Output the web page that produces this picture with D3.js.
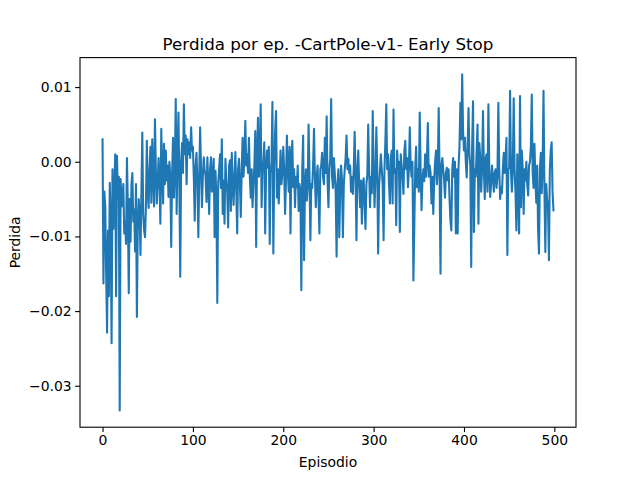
<!DOCTYPE html>
<html><head><meta charset="utf-8">
<script src="https://cdn.jsdelivr.net/npm/d3@7"></script>
<style>body{margin:0;background:#fff}svg{display:block}text{font-family:"DejaVu Sans",sans-serif}</style>
</head><body>
<svg id="c" width="640" height="480"></svg>
<script>
const title = "Perdida por ep. -CartPole-v1- Early Stop";
const xLabel = "Episodio";
const yLabel = "Perdida";
const xTicks = [0, 100, 200, 300, 400, 500];
const yTicks = [-0.03, -0.02, -0.01, 0.00, 0.01];
const lossValues = [
0.0030,-0.0163,-0.0040,-0.0060,-0.0150,-0.0229,-0.0092,-0.0180,-0.0028,-0.0080,
-0.0243,-0.0010,-0.0090,-0.0040,0.0010,-0.0180,0.0008,-0.0050,-0.0020,-0.0333,
-0.0023,-0.0060,-0.0052,-0.0030,-0.0096,-0.0080,-0.0110,0.0005,-0.0060,-0.0176,
-0.0050,-0.0107,-0.0030,-0.0015,-0.0080,-0.0064,-0.0120,-0.0030,-0.0208,-0.0088,
-0.0050,-0.0068,-0.0125,-0.0040,0.0039,-0.0070,-0.0092,-0.0101,-0.0060,0.0028,
-0.0040,-0.0062,-0.0010,0.0020,-0.0055,0.0030,-0.0020,-0.0060,0.0057,-0.0010,
-0.0056,-0.0030,0.0005,-0.0025,-0.0083,0.0044,-0.0015,-0.0056,0.0024,-0.0030,
0.0015,-0.0025,-0.0005,-0.0047,0.0000,-0.0020,-0.0114,-0.0016,0.0032,-0.0048,
-0.0010,0.0084,-0.0070,0.0010,0.0066,-0.0030,-0.0154,0.0000,0.0025,-0.0015,
0.0077,0.0010,0.0035,-0.0030,0.0030,0.0010,0.0026,0.0005,0.0046,0.0015,
0.0020,-0.0020,-0.0079,-0.0005,0.0012,-0.0030,-0.0101,-0.0020,0.0046,-0.0010,
-0.0061,-0.0020,0.0006,-0.0012,-0.0018,-0.0054,0.0006,-0.0030,-0.0070,-0.0010,
0.0006,-0.0040,-0.0020,0.0004,-0.0101,-0.0012,-0.0050,-0.0189,-0.0030,-0.0010,
0.0010,-0.0035,0.0030,-0.0070,-0.0025,-0.0083,0.0004,-0.0025,-0.0040,-0.0088,
-0.0006,0.0002,-0.0066,0.0012,-0.0030,-0.0058,-0.0020,0.0013,-0.0040,-0.0096,
-0.0010,0.0004,-0.0030,-0.0074,-0.0010,0.0032,-0.0020,0.0005,0.0055,-0.0005,
0.0010,-0.0015,0.0032,-0.0020,-0.0048,-0.0010,-0.0061,-0.0030,-0.0005,0.0041,
-0.0114,0.0010,0.0059,-0.0020,0.0002,0.0077,-0.0061,-0.0010,0.0000,0.0026,
-0.0096,-0.0010,0.0015,-0.0008,0.0020,-0.0110,-0.0015,0.0000,0.0080,-0.0123,
-0.0010,0.0041,0.0068,-0.0048,-0.0010,-0.0056,-0.0020,0.0015,-0.0030,-0.0015,
0.0020,-0.0010,-0.0070,-0.0025,0.0035,-0.0010,-0.0040,0.0020,-0.0096,0.0005,
0.0028,-0.0034,-0.0010,-0.0061,-0.0020,-0.0034,-0.0005,-0.0066,-0.0030,-0.0040,
-0.0172,-0.0010,0.0035,-0.0132,-0.0034,-0.0010,-0.0052,-0.0034,0.0050,-0.0015,
-0.0105,-0.0030,-0.0035,-0.0005,0.0044,-0.0020,-0.0061,-0.0020,-0.0005,-0.0050,
-0.0096,-0.0010,-0.0005,0.0012,-0.0020,-0.0030,0.0032,-0.0015,0.0061,-0.0025,
-0.0061,-0.0010,0.0004,0.0084,-0.0020,-0.0035,0.0005,-0.0015,-0.0040,-0.0127,
-0.0030,-0.0010,-0.0101,-0.0040,-0.0005,-0.0025,-0.0101,-0.0030,-0.0010,0.0005,
0.0035,-0.0010,0.0004,-0.0015,-0.0005,-0.0040,-0.0020,-0.0043,-0.0010,0.0040,
-0.0020,-0.0105,-0.0010,0.0015,-0.0030,-0.0061,-0.0025,-0.0083,-0.0030,-0.0022,
-0.0060,-0.0090,-0.0030,-0.0018,0.0050,-0.0010,-0.0061,-0.0020,-0.0042,0.0068,
-0.0010,-0.0061,-0.0020,0.0046,-0.0010,-0.0123,-0.0034,-0.0012,0.0010,-0.0010,
-0.0030,-0.0105,-0.0010,0.0028,0.0077,-0.0010,0.0010,-0.0030,-0.0056,0.0005,
0.0015,-0.0056,0.0070,-0.0015,-0.0010,-0.0085,0.0015,-0.0010,0.0000,-0.0094,
0.0010,-0.0005,-0.0020,-0.0043,0.0015,0.0028,-0.0010,0.0005,-0.0034,-0.0010,
0.0046,-0.0005,-0.0020,0.0000,-0.0159,-0.0088,-0.0010,0.0020,-0.0034,-0.0010,
-0.0040,0.0066,-0.0010,-0.0065,-0.0025,-0.0010,-0.0026,0.0010,-0.0020,0.0005,
0.0052,-0.0020,-0.0005,-0.0015,-0.0056,-0.0020,-0.0070,-0.0025,0.0000,0.0015,
-0.0030,-0.0010,0.0072,-0.0020,-0.0150,-0.0005,0.0005,-0.0010,-0.0025,-0.0048,
-0.0015,-0.0008,-0.0025,-0.0010,-0.0050,-0.0079,-0.0092,-0.0010,0.0005,-0.0020,
0.0000,-0.0096,-0.0010,-0.0096,-0.0005,0.0020,0.0079,0.0030,0.0117,0.0040,
0.0015,0.0032,0.0000,-0.0021,0.0020,0.0072,0.0010,-0.0005,-0.0141,0.0020,
0.0081,-0.0094,-0.0010,-0.0020,0.0015,0.0050,-0.0083,0.0025,0.0005,-0.0040,
-0.0010,0.0068,-0.0010,-0.0050,0.0005,0.0010,-0.0040,0.0077,-0.0010,-0.0047,
-0.0030,-0.0005,-0.0020,-0.0040,-0.0015,-0.0010,-0.0035,-0.0020,0.0079,-0.0010,
-0.0050,-0.0035,-0.0042,-0.0010,0.0012,-0.0015,0.0005,0.0032,-0.0125,-0.0010,
-0.0008,0.0095,-0.0015,-0.0040,-0.0010,0.0085,-0.0010,-0.0042,-0.0092,0.0010,
-0.0035,-0.0096,0.0088,-0.0061,0.0015,-0.0010,-0.0070,-0.0010,-0.0025,0.0000,
-0.0030,-0.0045,-0.0005,0.0000,0.0020,0.0090,-0.0015,-0.0035,0.0024,-0.0025,
-0.0055,-0.0005,-0.0092,-0.0123,-0.0010,0.0012,-0.0042,-0.0005,0.0095,-0.0035,
-0.0121,-0.0030,-0.0050,-0.0061,-0.0132,-0.0010,0.0015,0.0026,-0.0040,-0.0065
];
const episodes = lossValues.map((d, i) => i);

const svg = d3.select("#c");
const mLeft = 80, mRight = 576, mTop = 57.6, mBottom = 427.2;
const nLast = episodes.length - 1;
const xScale = d3.scaleLinear().domain([0 - nLast * 0.05, nLast + nLast * 0.05]).range([mLeft, mRight]);
const yExt = d3.extent(lossValues);
const yPad = (yExt[1] - yExt[0]) * 0.05;
const yScale = d3.scaleLinear().domain([yExt[0] - yPad, yExt[1] + yPad]).range([mBottom, mTop]);

const fmt = v => {
  const s = d3.format(".2f")(Math.abs(v));
  return (v < -1e-9 ? "\u2212" : "") + s;
};

const xAxis = d3.axisBottom(xScale).tickValues(xTicks).tickSize(4.9).tickPadding(3.5).tickFormat(d3.format("d"));
const yAxis = d3.axisLeft(yScale).tickValues(yTicks).tickSize(4.9).tickPadding(3.5).tickFormat(fmt);

const lineGen = d3.line().x((d, i) => xScale(episodes[i])).y(d => yScale(d));
svg.append("path").datum(lossValues)
  .attr("d", lineGen).attr("fill", "none").attr("stroke", "#1f77b4")
  .attr("stroke-width", 2.08).attr("stroke-linejoin", "round").attr("stroke-linecap", "square");

const gx = svg.append("g").attr("transform", `translate(0,${mBottom})`).call(xAxis);
const gy = svg.append("g").attr("transform", `translate(${mLeft},0)`).call(yAxis);
[gx, gy].forEach(g => {
  g.select(".domain").remove();
  g.selectAll(".tick line").attr("stroke", "#000").attr("stroke-width", 1.1);
  g.selectAll(".tick text").attr("fill", "#000").style("font-size", "13.9px").style("font-family", "DejaVu Sans");
});

svg.append("rect").attr("x", mLeft).attr("y", mTop).attr("width", mRight - mLeft).attr("height", mBottom - mTop)
  .attr("fill", "none").attr("stroke", "#000").attr("stroke-width", 1.1);

svg.append("text").attr("x", (mLeft + mRight) / 2).attr("y", 50).attr("text-anchor", "middle")
  .style("font-size", "16.7px").text(title);
svg.append("text").attr("x", (mLeft + mRight) / 2).attr("y", 467).attr("text-anchor", "middle")
  .style("font-size", "13.9px").text(xLabel);
svg.append("text").attr("transform", `translate(20,${(mTop + mBottom) / 2}) rotate(-90)`).attr("text-anchor", "middle")
  .style("font-size", "13.9px").text(yLabel);
</script>
</body></html>
